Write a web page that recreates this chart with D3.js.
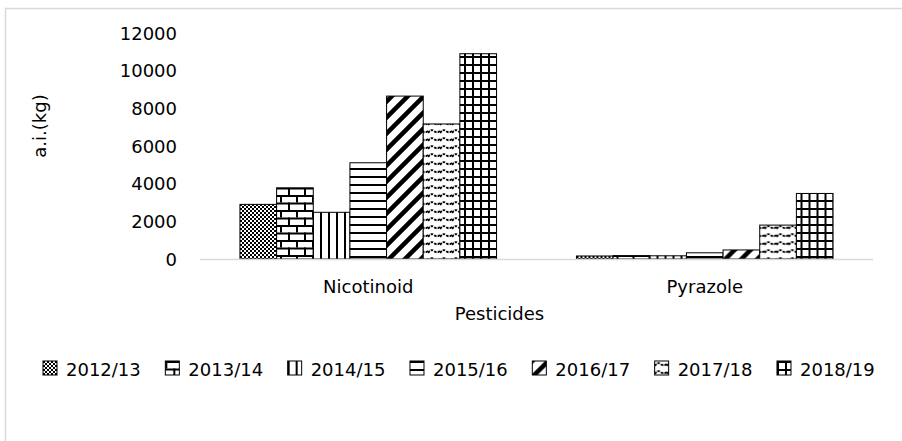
<!DOCTYPE html>
<html>
<head>
<meta charset="utf-8">
<script src="https://cdn.jsdelivr.net/npm/d3@7"></script>
<style>
  body { margin: 0; background: #fff; }
  text { font-family: "DejaVu Sans", Verdana, sans-serif; fill: #000; }
</style>
</head>
<body>
<div id="chart"></div>
<script>
// data
var categories = ["Nicotinoid", "Pyrazole"];
var years = ["2012/13", "2013/14", "2014/15", "2015/16", "2016/17", "2017/18", "2018/19"];
var nicotinoid = [2900, 3780, 2480, 5110, 8650, 7170, 10900];
var pyrazole = [160, 180, 170, 330, 480, 1800, 3480];
var yTicks = [0, 2000, 4000, 6000, 8000, 10000, 12000];

var seriesByCat = { "Nicotinoid": nicotinoid, "Pyrazole": pyrazole };

var W = 902, H = 441;
var margin = {top: 33, left: 200, right: 29, bottom: 182};
var plotW = W - margin.left - margin.right,
    plotH = H - margin.top - margin.bottom;

var svg = d3.select("#chart").append("svg")
    .attr("width", W)
    .attr("height", H);

// chart area border (runs off the right / bottom edge)
svg.append("rect")
    .attr("x", 5.5).attr("y", 8.5)
    .attr("width", 1000).attr("height", 1000)
    .attr("fill", "none")
    .attr("stroke", "#d9d9d9")
    .attr("stroke-width", 1.5);

// ---- patterns (Excel-like hatch fills)
var defs = svg.append("defs");

function pat(id, w, h) {
  var p = defs.append("pattern")
      .attr("id", id)
      .attr("patternUnits", "userSpaceOnUse")
      .attr("width", w).attr("height", h);
  p.append("rect").attr("width", w).attr("height", h).attr("fill", "#fff");
  return p;
}

// small checker board
var p0 = pat("p0", 4, 4);
p0.append("rect").attr("x", 0).attr("y", 0).attr("width", 2).attr("height", 2).attr("fill", "#000");
p0.append("rect").attr("x", 2).attr("y", 2).attr("width", 2).attr("height", 2).attr("fill", "#000");

// horizontal brick
var p1 = pat("p1", 16, 15);
p1.append("rect").attr("x", 0).attr("y", 0).attr("width", 16).attr("height", 2).attr("fill", "#000");
p1.append("rect").attr("x", 0).attr("y", 7.5).attr("width", 16).attr("height", 2).attr("fill", "#000");
p1.append("rect").attr("x", 0).attr("y", 0).attr("width", 2).attr("height", 7.5).attr("fill", "#000");
p1.append("rect").attr("x", 8).attr("y", 7.5).attr("width", 2).attr("height", 7.5).attr("fill", "#000");

// vertical lines
var p2 = pat("p2", 8, 8);
p2.append("rect").attr("x", 0).attr("y", 0).attr("width", 2).attr("height", 8).attr("fill", "#000");

// horizontal lines
var p3 = pat("p3", 8, 8);
p3.append("rect").attr("x", 0).attr("y", 0).attr("width", 8).attr("height", 2).attr("fill", "#000");

// wide upward diagonal
var p4 = pat("p4", 16, 16);
p4.append("path")
    .attr("d", "M0,16 L16,0 M-8,8 L8,-8 M8,24 L24,8")
    .attr("stroke", "#000")
    .attr("stroke-width", 4.5);

// wave
var p5 = pat("p5", 12, 8);
p5.append("path")
    .attr("d", "M0,5 Q3,0.5 6,3 T12,3")
    .attr("fill", "none")
    .attr("stroke", "#000")
    .attr("stroke-width", 1.9)
    .attr("stroke-dasharray", "2.5,1.2");

// small grid
var p6 = pat("p6", 8, 8);
p6.append("rect").attr("x", 0).attr("y", 0).attr("width", 8).attr("height", 2).attr("fill", "#000");
p6.append("rect").attr("x", 0).attr("y", 0).attr("width", 2).attr("height", 8).attr("fill", "#000");

var fills = ["p0", "p1", "p2", "p3", "p4", "p5", "p6"];

// ---- scales
var x0 = d3.scaleBand()
    .domain(categories)
    .range([margin.left, margin.left + plotW]);

var x1 = d3.scaleBand()
    .domain(years)
    .range([0, x0.bandwidth()])
    .paddingInner(0)
    .paddingOuter(1.09);

var y = d3.scaleLinear()
    .domain([0, 12000])
    .range([margin.top + plotH, margin.top]);

// y tick labels (no axis line)
var yAxis = svg.append("g")
    .attr("transform", "translate(" + 177 + ",0)")
    .call(d3.axisLeft(y).tickValues(yTicks).tickSize(0).tickPadding(0).tickFormat(d3.format("d")));
yAxis.select(".domain").remove();
yAxis.selectAll("text")
    .style("font-family", "'DejaVu Sans', Verdana, sans-serif")
    .style("font-size", "18px")
    .attr("dy", "0.35em");

// bars
var group = svg.append("g").selectAll("g")
    .data(categories)
  .enter().append("g")
    .attr("transform", function(d) { return "translate(" + x0(d) + ",0)"; });

group.selectAll("rect")
    .data(function(c) { return years.map(function(yr, i) { return {year: yr, i: i, value: seriesByCat[c][i]}; }); })
  .enter().append("rect")
    .attr("x", function(d) { return x1(d.year); })
    .attr("y", function(d) { return y(d.value); })
    .attr("width", x1.bandwidth())
    .attr("height", function(d) { return y(0) - y(d.value); })
    .attr("fill", function(d) { return "url(#" + fills[d.i] + ")"; })
    .attr("stroke", "#000")
    .attr("stroke-width", 1);

// x axis baseline
svg.append("line")
    .attr("x1", margin.left).attr("x2", margin.left + plotW)
    .attr("y1", y(0) + 0.5).attr("y2", y(0) + 0.5)
    .attr("stroke", "#d9d9d9")
    .attr("stroke-width", 1.5);

// category labels
svg.append("g").selectAll("text")
    .data(categories)
  .enter().append("text")
    .attr("x", function(d) { return x0(d) + x0.bandwidth() / 2; })
    .attr("y", 293)
    .attr("text-anchor", "middle")
    .style("font-size", "18px")
    .text(function(d) { return d; });

// axis titles
svg.append("text")
    .attr("x", 499.5)
    .attr("y", 320)
    .attr("text-anchor", "middle")
    .style("font-size", "18px")
    .text("Pesticides");

svg.append("text")
    .attr("transform", "translate(46,126) rotate(-90)")
    .attr("text-anchor", "middle")
    .style("font-size", "18px")
    .text("a.i.(kg)");

// legend
var legend = svg.append("g").selectAll("g")
    .data(years)
  .enter().append("g")
    .attr("transform", function(d, i) { return "translate(" + (43 + i * 122.33) + ",361)"; });

legend.append("rect")
    .attr("width", 14).attr("height", 14)
    .attr("fill", function(d, i) { return "url(#" + fills[i] + ")"; })
    .attr("stroke", "#000")
    .attr("stroke-width", 1);

legend.append("text")
    .attr("x", 23)
    .attr("y", 14.5)
    .style("font-size", "18px")
    .text(function(d) { return d; });
</script>
</body>
</html>
